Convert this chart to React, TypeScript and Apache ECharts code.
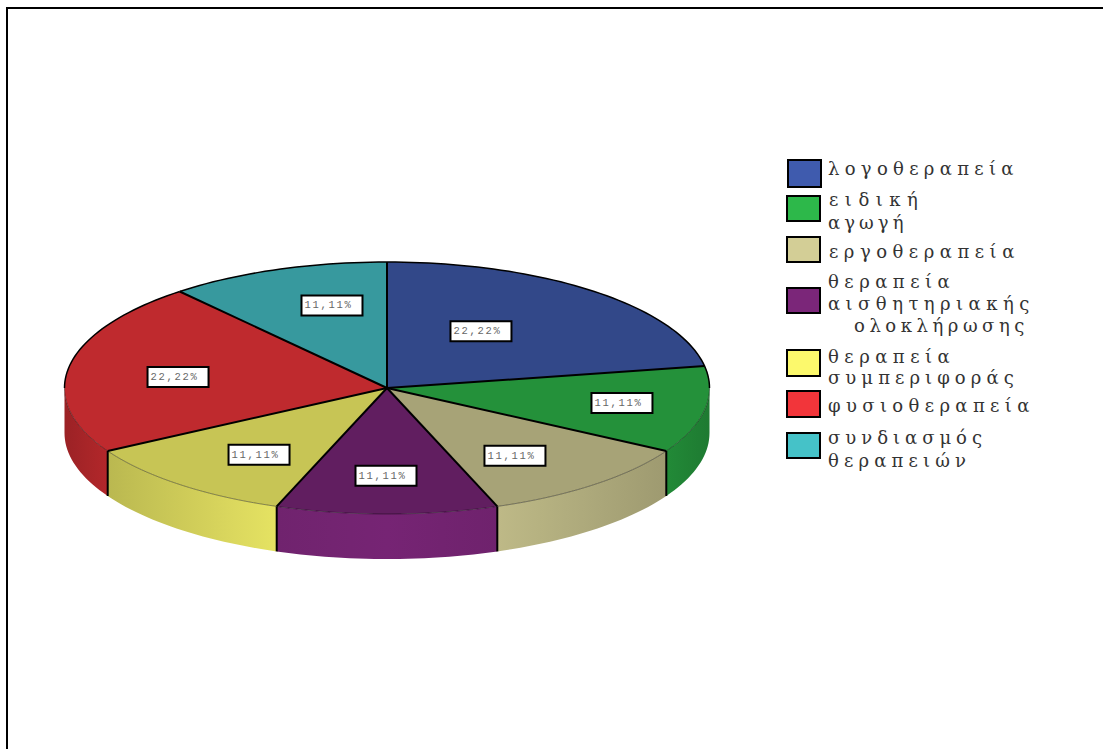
import React, { useEffect, useRef } from "react";
import * as echarts from "echarts";

// Therapy types and their share of the total, clockwise from twelve o'clock.
const categories = [
  "λογοθεραπεία",
  "ειδική αγωγή",
  "εργοθεραπεία",
  "θεραπεία αισθητηριακής ολοκλήρωσης",
  "θεραπεία συμπεριφοράς",
  "φυσιοθεραπεία",
  "συνδιασμός θεραπειών",
];
const shares = [22.22, 11.11, 11.11, 11.11, 11.11, 22.22, 11.11];
const baseColors = ["#3f5bae", "#2db84a", "#d3ce96", "#7b2679", "#fcf96c", "#f2353a", "#45c2c8"];

// Legend rows: swatch box and the wrapped lines of each name.
const legendRows = [
  { box: [788, 160, 33, 27], lines: [["λογοθεραπεία", 828, 168]] },
  { box: [787, 196, 33, 25], lines: [["ειδική", 829, 199], ["αγωγή", 828, 222]] },
  { box: [787, 237, 33, 25], lines: [["εργοθεραπεία", 829, 251]] },
  { box: [787, 288, 33, 25], lines: [["θεραπεία", 828, 281], ["αισθητηριακής", 828, 303], ["ολοκλήρωσης", 854, 325]] },
  { box: [787, 350, 33, 26], lines: [["θεραπεία", 828, 356], ["συμπεριφοράς", 828, 377]] },
  { box: [787, 391, 33, 26], lines: [["φυσιοθεραπεία", 828, 405]] },
  { box: [787, 433, 33, 25], lines: [["συνδιασμός", 828, 437], ["θεραπειών", 828, 460]] },
];

// Nudges of each percentage tag away from its default anchor on the slice.
const labelNudges = [[-47, 9], [19, 0], [-13, 2], [-1, 2], [13, 1], [7, 4], [20, -2]];

// Pie geometry: an ellipse for the tilted top face and the height of the rim.
const CX = 387;
const CY = 388;
const RX = 322.5;
const RY = 126;
const DEPTH = 45;
const TOP_SHADE = 0.79;

// Rim brightness against horizontal position, as light falling from the front.
const rimShade = [[64, 0.64], [108, 0.74], [276, 0.91], [386, 0.96], [497, 0.9], [666, 0.75], [710, 0.66]];

const LEGEND_FONT = "DejaVu Serif";
const TAG_FONT = "Liberation Mono";
const LEGEND_SIZE = 18;
const TAG_SIZE = 10.5;
const LEGEND_PITCH = 15.9;

const total = shares.reduce((a, b) => a + b, 0);
const rad = (deg: number) => (deg * Math.PI) / 180;
const rimPoint = (deg: number, drop = 0) => [CX + RX * Math.sin(rad(deg)), CY - RY * Math.cos(rad(deg)) + drop];

function sliceAngles(index: number) {
  const before = shares.slice(0, index).reduce((a, b) => a + b, 0);
  return [(before / total) * 360, ((before + shares[index]) / total) * 360];
}

function arcPoints(from: number, to: number, drop = 0) {
  const steps = Math.max(2, Math.ceil((to - from) / 1.5));
  const pts: number[][] = [];
  for (let i = 0; i <= steps; i++) pts.push(rimPoint(from + ((to - from) * i) / steps, drop));
  return pts;
}

function shadeColor(hex: string, k: number) {
  const n = parseInt(hex.slice(1), 16);
  const ch = [(n >> 16) & 255, (n >> 8) & 255, n & 255].map((c) => Math.round(c * k));
  return `rgb(${ch.join(",")})`;
}

function shadeAt(x: number) {
  for (let i = 1; i < rimShade.length; i++) {
    const [x0, s0] = rimShade[i - 1];
    const [x1, s1] = rimShade[i];
    if (x <= x1) return s0 + ((s1 - s0) * (x - x0)) / (x1 - x0);
  }
  return rimShade[rimShade.length - 1][1];
}

// Rim wall and top face of one slice.
function renderFace(params: any, api: any) {
  const i = params.dataIndex;
  const [from, to] = sliceAngles(i);
  const base = baseColors[i];
  const children: any[] = [];
  const a = Math.max(from, 90);
  const b = Math.min(to, 270);
  if (b > a) {
    const top = arcPoints(a, b);
    const bottom = arcPoints(a, b, DEPTH).reverse();
    const xs = top.map((p) => p[0]);
    const minX = Math.min(...xs);
    const maxX = Math.max(...xs);
    const colorStops = [0, 0.25, 0.5, 0.75, 1].map((t) => ({
      offset: t,
      color: shadeColor(base, shadeAt(minX + (maxX - minX) * t)),
    }));
    children.push({
      type: "polygon",
      shape: { points: top.concat(bottom) },
      style: { fill: { type: "linear", x: 0, y: 0, x2: 1, y2: 0, colorStops } },
    });
  }
  children.push({
    type: "polygon",
    shape: { points: [[CX, CY], ...arcPoints(from, to)] },
    style: { fill: shadeColor(base, TOP_SHADE) },
  });
  return { type: "group", children };
}

// Black edges of one slice and its percentage tag, above every face.
function renderEdges(params: any, api: any) {
  const i = params.dataIndex;
  const [from, to] = sliceAngles(i);
  const children: any[] = [];
  const line = (points: number[][], stroke: string, lineWidth: number) => ({
    type: "polyline",
    shape: { points },
    style: { fill: "none", stroke, lineWidth },
  });
  children.push(line([[CX, CY], rimPoint(from)], "#000", 2));

  const parts = [from, 90, 270, to].filter((d) => d >= from && d <= to).sort((x, y) => x - y);
  for (let p = 0; p < parts.length - 1; p++) {
    if (parts[p + 1] <= parts[p]) continue;
    const mid = (parts[p] + parts[p + 1]) / 2;
    const back = mid <= 90 || mid >= 270;
    children.push(line(arcPoints(parts[p], parts[p + 1]), back ? "#000" : "rgba(0,0,0,0.4)", back ? 1.5 : 1));
  }
  if (from > 90 && from < 270) children.push(line([rimPoint(from), rimPoint(from, DEPTH)], "#000", 2));

  const mid = (from + to) / 2;
  const cx = CX + RX * 0.68 * Math.sin(rad(mid)) + labelNudges[i][0];
  const cy = CY - RY * 0.68 * Math.cos(rad(mid)) + labelNudges[i][1];
  children.push({
    type: "rect",
    shape: { x: cx - 30.5, y: cy - 10, width: 61, height: 20 },
    style: { fill: "#fff", stroke: "#000", lineWidth: 2 },
  });
  children.push({
    type: "text",
    style: {
      text: `${api.value(0).toFixed(2).replace(".", ",")}%`,
      x: cx - 27.5,
      y: cy,
      align: "left",
      verticalAlign: "middle",
      fontFamily: TAG_FONT,
      fontSize: TAG_SIZE,
      fill: "#666",
    },
  });
  return { type: "group", children };
}

function legendGraphics() {
  const out: any[] = [];
  legendRows.forEach((row, i) => {
    const [x, y, width, height] = row.box;
    out.push({
      type: "rect",
      shape: { x, y, width, height },
      style: { fill: baseColors[i], stroke: "#000", lineWidth: 2 },
    });
    row.lines.forEach(([text, tx, ty]) => {
      out.push({
        type: "text",
        x: tx as number,
        y: ty as number,
        style: {
          text: text as string,
          align: "left",
          verticalAlign: "middle",
          fontFamily: LEGEND_FONT,
          fontSize: LEGEND_SIZE,
          fill: "#333",
        },
      });
    });
  });
  return out;
}

export default function App() {
  const ref = useRef<HTMLDivElement>(null);

  useEffect(() => {
    document.body.style.margin = "0";
    document.body.style.overflow = "hidden";
    const chart = echarts.init(ref.current!, undefined, { renderer: "svg" });
    const data = categories.map((name, i) => ({ name, value: [shares[i]] }));
    chart.setOption({
      animation: false,
      backgroundColor: "#fff",
      graphic: [
        {
          type: "polyline",
          shape: { points: [[7, 749], [7, 8], [1103, 8]] },
          style: { fill: "none", stroke: "#000", lineWidth: 2 },
          silent: true,
        },
        ...legendGraphics(),
      ],
      series: [
        { type: "custom", coordinateSystem: "none", renderItem: renderFace, data, silent: true, z: 2 },
        { type: "custom", coordinateSystem: "none", renderItem: renderEdges, data, silent: true, z: 3 },
      ],
    });
    // The wide typewriter spacing is not a zrender text option, so it goes on the SVG nodes.
    ref.current!.querySelectorAll("text").forEach((node) => {
      const el = node as SVGTextElement;
      const size = parseFloat(getComputedStyle(el).fontSize);
      if (size > 14) {
        const n = (el.textContent || "").length;
        el.style.letterSpacing = `${(n * LEGEND_PITCH - el.getComputedTextLength()) / n}px`;
      } else {
        el.style.letterSpacing = "1.7px";
      }
    });
    return () => chart.dispose();
  }, []);

  return <div ref={ref} style={{ width: 1103, height: 749 }} />;
}
